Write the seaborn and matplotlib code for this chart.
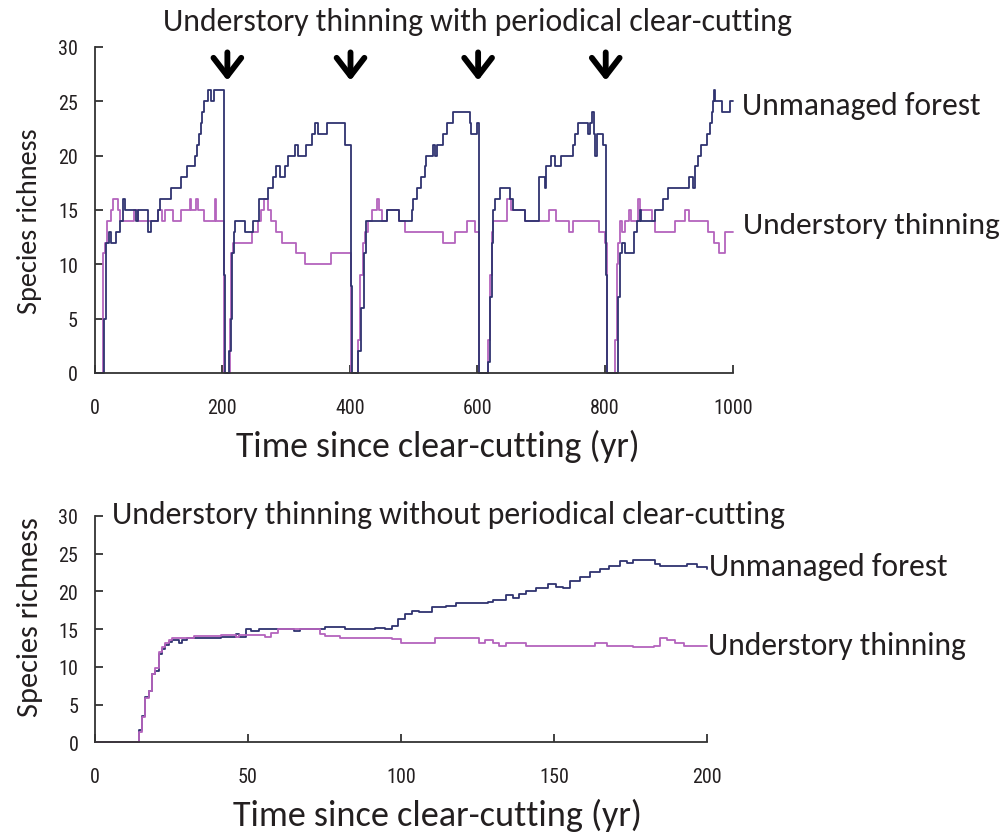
import matplotlib
matplotlib.use("Agg")
import matplotlib.pyplot as plt
from matplotlib import font_manager
import pandas as pd
import seaborn as sns

# ---------------------------------------------------------------- data
# 1000-year run with a clear-cut roughly every 200 years (step changes)
top_unmanaged_year = [
    0, 14, 17, 22, 26, 34, 39, 44, 47, 65, 68, 83, 89, 99, 103, 120, 135, 144,
    157, 160, 163, 166, 169, 171, 178, 183, 187, 203, 204,
    211, 213, 215, 218, 220, 235, 248, 258, 272, 279, 285, 290, 298, 303, 314,
    319, 332, 340, 345, 350, 364, 392, 402, 403,
    413, 418, 422, 425, 458, 477, 497, 499, 505, 512, 518, 520, 531, 534, 537,
    546, 552, 562, 588, 590, 599, 602, 603,
    616, 619, 622, 625, 628, 636, 651, 656, 674, 697, 706, 708, 716, 721, 731,
    750, 753, 758, 774, 776, 780, 782, 784, 787, 796, 802, 803,
    820, 823, 826, 831, 845, 850, 855, 857, 878, 891, 899, 931, 938, 941, 946,
    951, 959, 964, 967, 969, 970, 972, 983, 996, 1000,
]
top_unmanaged_richness = [
    0, 5, 12, 13, 12, 13, 14, 16, 15, 14, 15, 13, 14, 15, 16, 17, 18, 19,
    20, 21, 22, 23, 24, 25, 26, 25, 26, 9, 0,
    2, 5, 11, 13, 14, 13, 14, 16, 17, 18, 19, 18, 19, 20, 21,
    20, 21, 22, 23, 22, 23, 21, 8, 0,
    2, 6, 11, 14, 15, 14, 15, 16, 17, 18, 19, 20, 21, 20, 21,
    22, 23, 24, 23, 22, 23, 9, 0,
    1, 7, 12, 15, 16, 17, 16, 15, 14, 18, 17, 19, 20, 19, 20,
    21, 22, 23, 22, 23, 24, 22, 20, 22, 21, 9, 0,
    7, 11, 12, 11, 13, 14, 15, 14, 15, 16, 17, 18, 17, 19, 20,
    21, 22, 23, 24, 25, 26, 25, 24, 25, 25,
]
top_thinning_year = [
    0, 13, 16, 19, 25, 29, 37, 40, 62, 68, 99, 105, 110, 123, 136, 149, 151,
    159, 162, 172, 188, 190, 203,
    212, 214, 217, 246, 256, 260, 265, 272, 277, 285, 293, 316, 330, 370, 402,
    412, 416, 420, 424, 429, 434, 442, 445, 450, 458, 477, 486, 546, 565, 583,
    596, 602,
    616, 619, 622, 625, 647, 652, 675, 712, 723, 743, 750, 790, 800, 803,
    815, 819, 821, 823, 826, 831, 837, 840, 852, 855, 873, 878, 910, 926, 931,
    962, 970, 978, 988, 1000,
]
top_thinning_richness = [
    0, 11, 12, 14, 15, 16, 15, 14, 15, 14, 15, 14, 15, 14, 15, 16, 15,
    16, 15, 14, 16, 14, 0,
    5, 11, 12, 13, 14, 15, 16, 15, 14, 13, 12, 11, 10, 11, 0,
    3, 9, 12, 13, 14, 15, 16, 15, 14, 15, 14, 13, 12, 13, 14,
    13, 0,
    3, 9, 13, 14, 16, 15, 14, 15, 14, 13, 14, 13, 12, 0,
    3, 10, 12, 14, 13, 14, 15, 14, 16, 15, 14, 13, 14, 15, 14,
    13, 12, 11, 13, 13,
]

# 200-year run without periodical clear-cutting
bottom_unmanaged_year = [
    0, 12.6, 14.3, 15.3, 16.4, 17.5, 18.6, 19.7, 20.8, 21.9, 23.0, 24.1, 25.2,
    27.4, 28.5, 30.2, 41.1, 46.0, 47.0, 49.3, 51.0, 53.7, 65.2, 67.0, 75.1,
    80.0, 81.7, 91.6, 94.8, 97.0, 99.2, 101.4, 103.6, 105.8, 110.2, 114.6,
    117.9, 128.3, 130.0, 134.3, 136.5, 138.7, 140.9, 144.2, 148.0, 150.8,
    153.0, 155.2, 158.5, 161.8, 165.0, 168.0, 171.6, 173.8, 176.0, 183.0,
    184.8, 192.5, 193.6, 196.9, 200.0,
]
bottom_unmanaged_richness = [
    0, 0, 1.6, 3.5, 6.0, 6.8, 9.0, 9.5, 11.7, 12.3, 12.9, 13.3, 13.6,
    13.2, 13.6, 13.8, 14.0, 14.4, 14.0, 15.0, 14.8, 15.0, 14.8, 15.0, 15.3,
    15.3, 15.0, 15.1, 15.0, 15.4, 16.3, 17.0, 17.4, 17.2, 17.9, 18.1,
    18.5, 18.6, 18.9, 19.5, 19.1, 19.6, 20.1, 20.4, 21.0, 20.6,
    20.4, 21.4, 21.9, 22.5, 23.0, 23.4, 24.0, 23.7, 24.2, 23.6,
    23.4, 23.4, 23.6, 23.2, 23.0,
]
bottom_thinning_year = [
    0, 12.6, 14.3, 15.3, 16.4, 17.5, 18.6, 19.7, 20.8, 21.9, 23.0, 24.1, 25.2,
    32.3, 41.1, 46.0, 47.0, 53.7, 55.5, 57.6, 59.8, 72.9, 73.5, 75.1, 80.0,
    97.0, 100.0, 110.2, 111.0, 124.5, 125.5, 127.5, 130.0, 132.2, 134.3,
    140.9, 145.0, 162.8, 163.5, 167.2, 174.5, 176.0, 182.6, 184.8, 187.0,
    189.5, 192.5, 200.0,
]
bottom_thinning_richness = [
    0, 0, 1.4, 3.3, 5.8, 6.8, 9.0, 9.8, 11.9, 12.6, 13.2, 13.6, 13.8,
    14.1, 14.2, 13.9, 14.2, 14.2, 13.9, 14.5, 15.0, 15.0, 14.4, 14.1, 13.8,
    13.7, 13.2, 13.2, 13.8, 13.8, 13.2, 13.5, 13.2, 12.8, 13.2,
    12.8, 12.7, 12.8, 13.2, 12.8, 12.8, 12.6, 12.8, 13.8, 13.6,
    13.2, 12.8, 12.8,
]

# years of the clear-cuts marked with arrows
clearcut_years = [208, 401, 601, 801]

series_names = ["Unmanaged forest", "Understory thinning"]
top_title = "Understory thinning with periodical clear-cutting"
bottom_title = "Understory thinning without periodical clear-cutting"
x_label = "Time since clear-cutting (yr)"
y_label = "Species richness"

# ---------------------------------------------------------------- style
sns.set_theme(style="white")
installed = {f.name for f in font_manager.fontManager.ttflist}
text_font = next(f for f in ["Carlito", "Lato", "Open Sans", "DejaVu Sans"]
                 if f in installed)
tick_font = next((f for f in ["Liberation Sans Narrow", "Roboto Condensed",
                              "Open Sans Condensed", "DejaVu Sans"]
                  if f in installed), "DejaVu Sans")
plt.rcParams["font.family"] = [text_font, "DejaVu Sans"]

NAVY = "#2f336f"
ORCHID = "#b463bd"
INK = "#231f20"
palette = {series_names[0]: NAVY, series_names[1]: ORCHID}


def frame(years_a, vals_a, years_b, vals_b):
    a = pd.DataFrame({"year": years_a, "richness": vals_a, "series": series_names[0]})
    b = pd.DataFrame({"year": years_b, "richness": vals_b, "series": series_names[1]})
    return pd.concat([a, b], ignore_index=True)


top_df = frame(top_unmanaged_year, top_unmanaged_richness,
               top_thinning_year, top_thinning_richness)
bottom_df = frame(bottom_unmanaged_year, bottom_unmanaged_richness,
                  bottom_thinning_year, bottom_thinning_richness)

W, H = 1007, 837
fig = plt.figure(figsize=(W / 100, H / 100), dpi=100)
ax_top = fig.add_axes([0.094, 0.5532, 0.6336, 0.3895])
ax_bot = fig.add_axes([0.0943, 0.112, 0.6077, 0.2706])

sns.lineplot(data=top_df, x="year", y="richness", hue="series",
             hue_order=[series_names[1], series_names[0]], palette=palette,
             estimator=None, sort=False, drawstyle="steps-post", linewidth=1.3,
             legend=False, ax=ax_top, clip_on=False)
sns.lineplot(data=bottom_df, x="year", y="richness", hue="series",
             hue_order=series_names, palette=palette,
             estimator=None, sort=False, drawstyle="steps-post", linewidth=1.3,
             legend=False, ax=ax_bot, clip_on=False)

for ax, xmax, xstep in [(ax_top, 1000, 200), (ax_bot, 200, 50)]:
    ax.set_xlim(0, xmax)
    ax.set_ylim(0, 30)
    ax.set_xticks(range(0, xmax + 1, xstep))
    ax.set_yticks(range(0, 31, 5))
    ax.set_xlabel("")
    ax.set_ylabel("")
    for side in ["top", "right"]:
        ax.spines[side].set_visible(False)
    for side in ["left", "bottom"]:
        ax.spines[side].set_color("#333333")
        ax.spines[side].set_linewidth(1.3)
    ax.tick_params(axis="both", direction="in", length=6, width=1.3,
                   color="#333333", labelsize=14.5, labelcolor=INK,
                   bottom=True, left=True)
    ax.tick_params(axis="x", pad=18)
    ax.tick_params(axis="y", pad=12)
    for lab in ax.get_xticklabels() + ax.get_yticklabels():
        lab.set_family(tick_font)

# clear-cut arrows
for yr in clearcut_years:
    ax_top.annotate("", xy=(yr, 26.9), xytext=(yr, 29.5),
                    arrowprops=dict(arrowstyle="->, head_length=0.65, head_width=0.5",
                                    lw=4.2, color="black", mutation_scale=20,
                                    shrinkA=0, shrinkB=0),
                    annotation_clip=False)

# series labels at the line ends
labels = [
    ax_top.text(1014, 24.7, series_names[0], ha="left", va="center", color=INK, fontsize=18),
    ax_top.text(1016, 13.6, series_names[1], ha="left", va="center", color=INK, fontsize=18),
    ax_bot.text(200.8, 23.4, series_names[0], ha="left", va="center", color=INK, fontsize=18),
    ax_bot.text(200.4, 12.9, series_names[1], ha="left", va="center", color=INK, fontsize=18),
]
label_widths = [239, 257, 239, 259]


def px(x, y):
    return x / W, 1 - y / H


titles = [
    fig.text(*px(477.5, 22), top_title, ha="center", va="center", color=INK, fontsize=18),
    fig.text(*px(448.5, 515), bottom_title, ha="center", va="center", color=INK, fontsize=18),
    fig.text(*px(438, 446), x_label, ha="center", va="center", color=INK, fontsize=20),
    fig.text(*px(437, 815), x_label, ha="center", va="center", color=INK, fontsize=20),
    fig.text(*px(30, 221), y_label, ha="center", va="center", rotation=90, color=INK, fontsize=18),
    fig.text(*px(30, 617), y_label, ha="center", va="center", rotation=90, color=INK, fontsize=18),
]
title_lengths = [629, 673, 404, 408, 186, 200]

# size each text so its length matches the layout
fig.canvas.draw()
renderer = fig.canvas.get_renderer()
for txt, target in zip(labels + titles, label_widths + title_lengths):
    bb = txt.get_window_extent(renderer)
    length = bb.height if txt.get_rotation() == 90 else bb.width
    txt.set_fontsize(txt.get_fontsize() * target / length)

fig.savefig("out.png", dpi=100)
